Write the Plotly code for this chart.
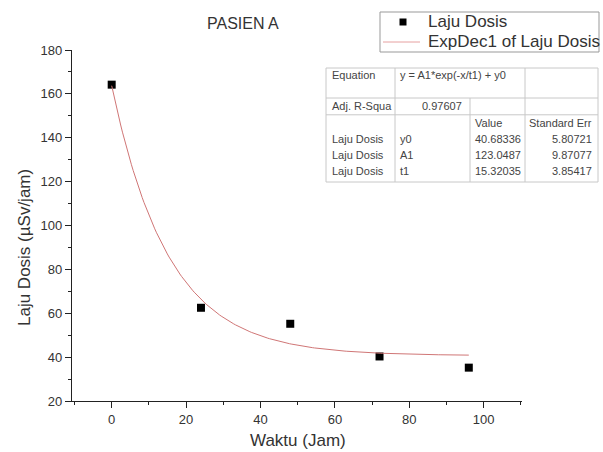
import numpy as np
import plotly.graph_objects as go

# ---- data ----
waktu = [0, 24, 48, 72, 96]
laju_dosis = [164.2, 62.5, 55.2, 40.3, 35.2]

# fit parameters shown in the chart's table
fit_y0 = 40.68336
fit_A1 = 123.0487
fit_t1 = 15.32035
fit_se_y0 = 5.80721
fit_se_A1 = 9.87077
fit_se_t1 = 3.85417
adj_r2 = 0.97607

x_ticks = [0, 20, 40, 60, 80, 100]
y_ticks = [20, 40, 60, 80, 100, 120, 140, 160, 180]

W, H = 603, 452
ML, MR, MT, MB = 72, 81, 50, 51
PW, PH = W - ML - MR, H - MT - MB


def px(x):
    return (x - ML) / PW


def py(y):
    return (H - MB - y) / PH


fit_x = np.linspace(waktu[0], waktu[-1], 200)
fit_y = fit_A1 * np.exp(-fit_x / fit_t1) + fit_y0

FONT = "Liberation Sans, Arial, sans-serif"
TXT = "#333333"
FIT_COLOR = "rgb(208,118,118)"

fig = go.Figure()
fig.add_trace(go.Scatter(
    x=waktu, y=laju_dosis, mode="markers", name="Laju Dosis",
    marker=dict(symbol="square", size=8, color="black"),
))
fig.add_trace(go.Scatter(
    x=fit_x, y=fit_y, mode="lines", name="ExpDec1 of Laju Dosis",
    line=dict(color=FIT_COLOR, width=1),
))

axis_common = dict(
    showline=True, linecolor="#222222", linewidth=1.3, mirror=False,
    ticks="outside", ticklen=6, tickwidth=1, tickcolor="#222222",
    showgrid=False, zeroline=False,
    tickfont=dict(family=FONT, size=13, color=TXT),
    minor=dict(ticks="outside", ticklen=3, tickcolor="#222222", showgrid=False),
)

fig.update_xaxes(range=[-10.67, 110.3], tickvals=x_ticks, minor_dtick=10,
                 minor_tick0=0, **axis_common)
fig.update_yaxes(range=[20, 180], tickvals=y_ticks, minor_dtick=10,
                 minor_tick0=0, **axis_common)

annotations = []
shapes = []


def text(x, y, s, size=11, anchor="left", color="#444444"):
    annotations.append(dict(
        x=px(x), y=py(y), xref="paper", yref="paper", text=s, showarrow=False,
        xanchor=anchor, yanchor="middle", font=dict(family=FONT, size=size, color=color),
    ))


def line(x0, y0, x1, y1, color="#c8c8c8", width=1):
    shapes.append(dict(type="line", xref="paper", yref="paper",
                       x0=px(x0), y0=py(y0), x1=px(x1), y1=py(y1),
                       line=dict(color=color, width=width)))


# title and axis titles
text(243, 23, "PASIEN A", size=16, anchor="center", color=TXT)
text(298, 440, "Waktu (Jam)", size=17, anchor="center", color=TXT)
annotations.append(dict(
    x=px(24), y=py(248), xref="paper", yref="paper", text="Laju Dosis (µSv/jam)",
    showarrow=False, textangle=-90, xanchor="center", yanchor="middle",
    font=dict(family=FONT, size=17, color=TXT),
))

# legend (drawn box)
shapes.append(dict(type="rect", xref="paper", yref="paper",
                   x0=px(380), x1=px(599), y0=py(52), y1=py(12),
                   line=dict(color="#999999", width=1), fillcolor="white"))
shapes.append(dict(type="rect", xref="paper", yref="paper",
                   x0=px(399.5), x1=px(406.5), y0=py(25.5), y1=py(18.5),
                   line=dict(color="black", width=0), fillcolor="black"))
line(383, 42, 420, 42, color="rgb(230,160,160)", width=1)
text(426, 22, "Laju Dosis", size=17, color=TXT)
text(426, 42, "ExpDec1 of Laju Dosis", size=17, color=TXT)

# table
T_L, T_R, T_T, T_B = 326, 598, 68, 182
row_b = [98, 114.8, 131.6, 148.4, 165.2, 182]
for yy in [T_T, row_b[0], row_b[1], T_B]:
    line(T_L, yy, T_R, yy)
line(T_L, T_T, T_L, T_B)
line(395, T_T, 395, T_B)
line(470, row_b[0], 470, T_B)
line(525, T_T, 525, T_B)
line(T_R, T_T, T_R, T_B)

text(330, 75, "Equation")
text(398, 75, "y = A1*exp(-x/t1) + y0")
text(330, 106, "Adj. R-Squa")
text(464, 106, f"{adj_r2:.5f}", anchor="right")
text(473, 123, "Value")
text(594, 123, "Standard Err", anchor="right")
rows = [("y0", fit_y0, fit_se_y0), ("A1", fit_A1, fit_se_A1), ("t1", fit_t1, fit_se_t1)]
for i, (nm, v, se) in enumerate(rows):
    yy = 139 + 16 * i
    text(330, yy, "Laju Dosis")
    text(398, yy, nm)
    text(473, yy, f"{v:.7g}")
    text(594, yy, f"{se:.6g}", anchor="right")

fig.update_layout(
    width=W, height=H,
    margin=dict(l=ML, r=MR, t=MT, b=MB, autoexpand=False),
    paper_bgcolor="white", plot_bgcolor="white",
    font=dict(family=FONT, color=TXT),
    showlegend=False,
    annotations=annotations,
    shapes=shapes,
)

fig.write_html(
    "out.html",
    config={"displayModeBar": False},
    post_script="document.body.style.margin='0';document.body.style.overflow='hidden';",
)
